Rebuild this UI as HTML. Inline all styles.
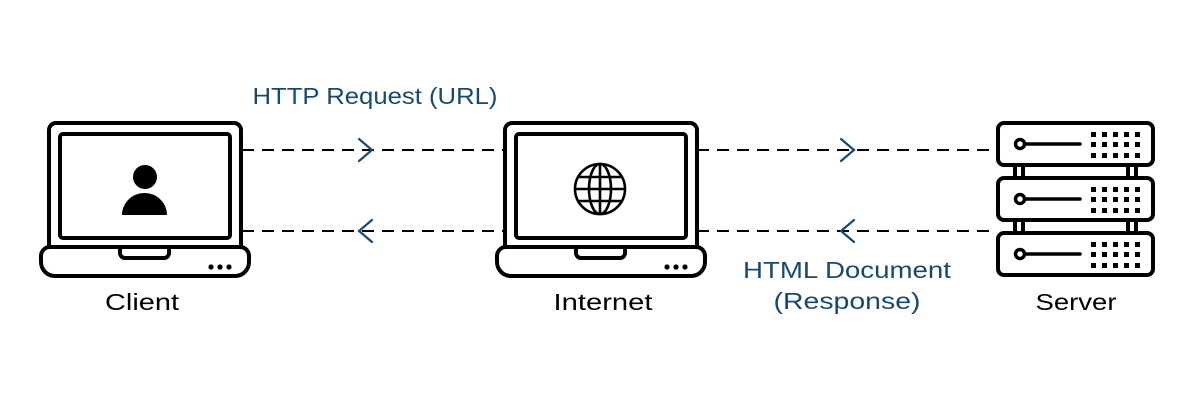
<!DOCTYPE html>
<html><head><meta charset="utf-8"><style>
html,body{margin:0;padding:0;background:#fff;width:1200px;height:400px;overflow:hidden}
svg{display:block}
text{font-family:"Liberation Sans",sans-serif}
</style></head><body>
<svg width="1200" height="400" viewBox="0 0 1200 400" xmlns="http://www.w3.org/2000/svg">
<rect width="1200" height="400" fill="#fff"/>
<!-- dashed lines -->
<g stroke="#000" stroke-width="2" stroke-dasharray="12 8" fill="none">
<line x1="242" y1="150" x2="505" y2="150"/>
<line x1="242" y1="231" x2="505" y2="231"/>
<line x1="697" y1="150" x2="997" y2="150"/>
<line x1="697" y1="231" x2="997" y2="231"/>
</g>
<g stroke="#174a73" stroke-width="2.2" fill="none" stroke-linecap="round">
<polyline points="359,139 372,150 359,161"/>
<polyline points="372,220 359,231 372,242"/>
<polyline points="841,139 854,150 841,161"/>
<polyline points="854,220 841,231 854,242"/>
</g>
<!-- laptop template -->
<g id="lap" fill="none" stroke="#000" stroke-width="4">
<path d="M49,247 V130 a7,7 0 0 1 7,-7 H234 a7,7 0 0 1 7,7 V247"/>
<rect x="60" y="134" width="170" height="104" rx="3"/>
<path d="M50,247 H240 a9,9 0 0 1 9,9 V262 a14,14 0 0 1 -14,14 H55 a14,14 0 0 1 -14,-14 V256 a9,9 0 0 1 9,-9 Z"/>
<path d="M120,248 V253 a5,5 0 0 0 5,5 H164 a5,5 0 0 0 5,-5 V248"/>
</g>
<g fill="#000"><circle cx="211" cy="267" r="2.6"/><circle cx="220" cy="267" r="2.6"/><circle cx="229" cy="267" r="2.6"/></g>
<circle cx="145" cy="177" r="12" fill="#000"/>
<path d="M122,215 a22.5,22 0 0 1 45,0 Z" fill="#000"/>
<!-- internet laptop -->
<g transform="translate(456,0)">
<g fill="none" stroke="#000" stroke-width="4">
<path d="M49,247 V130 a7,7 0 0 1 7,-7 H234 a7,7 0 0 1 7,7 V247"/>
<rect x="60" y="134" width="170" height="104" rx="3"/>
<path d="M50,247 H240 a9,9 0 0 1 9,9 V262 a14,14 0 0 1 -14,14 H55 a14,14 0 0 1 -14,-14 V256 a9,9 0 0 1 9,-9 Z"/>
<path d="M120,248 V253 a5,5 0 0 0 5,5 H164 a5,5 0 0 0 5,-5 V248"/>
</g>
<g fill="#000"><circle cx="211" cy="267" r="2.6"/><circle cx="220" cy="267" r="2.6"/><circle cx="229" cy="267" r="2.6"/></g>
</g>
<g fill="none" stroke="#000" stroke-width="2.6">
<circle cx="600" cy="189" r="25"/>
<ellipse cx="600" cy="189" rx="11" ry="25"/>
<line x1="600" y1="164" x2="600" y2="214"/>
<line x1="575" y1="189" x2="625" y2="189"/>
<line x1="579" y1="177" x2="621" y2="177"/>
<line x1="579" y1="201" x2="621" y2="201"/>
</g>
<!-- server -->
<g fill="none" stroke="#000" stroke-width="4">
<rect x="998" y="123" width="155" height="42" rx="6"/>
<rect x="998" y="178" width="155" height="42" rx="6"/>
<rect x="998" y="233" width="155" height="42" rx="6"/>
<rect x="1015" y="165" width="8" height="13"/>
<rect x="1128" y="165" width="8" height="13"/>
<rect x="1015" y="220" width="8" height="13"/>
<rect x="1128" y="220" width="8" height="13"/>
</g>
<g fill="none" stroke="#000" stroke-width="3.5">
<circle cx="1020" cy="144" r="4.5"/><line x1="1025" y1="144" x2="1080" y2="144" stroke-linecap="round"/>
<circle cx="1020" cy="199" r="4.5"/><line x1="1025" y1="199" x2="1080" y2="199" stroke-linecap="round"/>
<circle cx="1020" cy="254" r="4.5"/><line x1="1025" y1="254" x2="1080" y2="254" stroke-linecap="round"/>
</g>
<g fill="#000" id="dots">
<g id="row"><rect x="1091" y="132" width="5" height="5"/><rect x="1102" y="132" width="5" height="5"/><rect x="1113" y="132" width="5" height="5"/><rect x="1124" y="132" width="5" height="5"/><rect x="1135" y="132" width="5" height="5"/></g>
<use href="#row" y="10"/><use href="#row" y="21"/>
<use href="#row" y="55"/><use href="#row" y="65"/><use href="#row" y="76"/>
<use href="#row" y="110"/><use href="#row" y="120"/><use href="#row" y="131"/>
</g>
<!-- labels -->
<g fill="#174a73" font-size="23">
<text x="375" y="104" text-anchor="middle" textLength="245" lengthAdjust="spacingAndGlyphs">HTTP Request (URL)</text>
<text x="847" y="278" text-anchor="middle" textLength="208" lengthAdjust="spacingAndGlyphs">HTML Document</text>
<text x="847" y="309" text-anchor="middle" textLength="147" lengthAdjust="spacingAndGlyphs">(Response)</text>
</g>
<g fill="#000" font-size="23">
<text x="142" y="310" text-anchor="middle" textLength="74" lengthAdjust="spacingAndGlyphs">Client</text>
<text x="603" y="310" text-anchor="middle" textLength="99" lengthAdjust="spacingAndGlyphs">Internet</text>
<text x="1076" y="310" text-anchor="middle" textLength="81" lengthAdjust="spacingAndGlyphs">Server</text>
</g>
</svg>
</body></html>
